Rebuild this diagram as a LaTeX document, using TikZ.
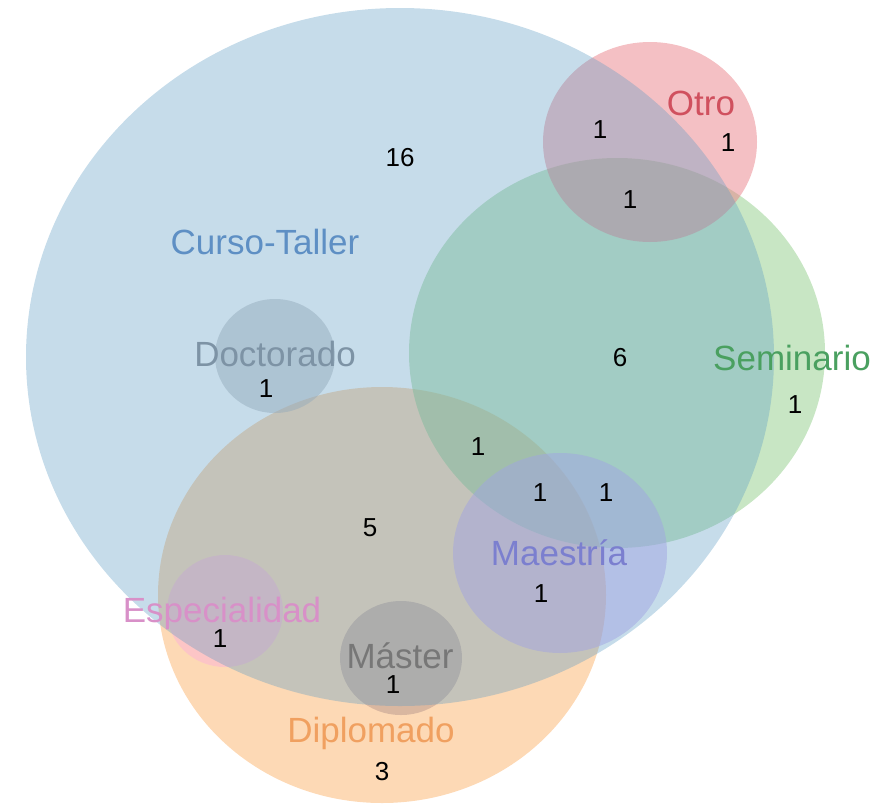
\documentclass[tikz,border=0pt]{standalone}
\usepackage{fontspec}
\setmainfont{Liberation Sans}
\usetikzlibrary{positioning, shapes.geometric}

\definecolor{cursoc}{RGB}{92,155,195}
\definecolor{otroc}{RGB}{233,129,137}
\definecolor{seminc}{RGB}{145,205,137}
\definecolor{doctc}{RGB}{181,181,185}
\definecolor{diplc}{RGB}{251,179,107}
\definecolor{maesc}{RGB}{199,169,243}
\definecolor{espc}{RGB}{251,169,225}
\definecolor{mastc}{RGB}{181,149,141}

\begin{document}
\begin{tikzpicture}[x=1pt, y=-1pt,
  set/.style={ellipse, inner sep=0pt, outer sep=0pt, fill opacity=0.5},
  lbl/.style={font=\fontsize{35}{38}\selectfont},
  num/.style={font=\fontsize{26}{28}\selectfont, text=black}]

\useasboundingbox (0,0) rectangle (885,806);

  % Sets (Curso-Taller last, on top)
  \node (diplomado) [set, fill=diplc, minimum width=448pt, minimum height=416pt] at (382,595) {};
  \node (seminario) [set, fill=seminc, minimum width=416pt, minimum height=390pt] at (617,353) {};
  \node (otro) [set, fill=otroc, minimum width=214pt, minimum height=200pt] at (650,142) {};
  \node (maestria) [set, fill=maesc, minimum width=214pt, minimum height=200pt] at (560,553) {};
  \node (especialidad) [set, fill=espc, fill opacity=0.4, minimum width=116pt, minimum height=112pt] at (225,611) {};
  \node (master) [set, fill=mastc, minimum width=122pt, minimum height=114pt] at (401,658) {};
  \node (doctorado) [set, fill=doctc, minimum width=120pt, minimum height=114pt] at (275,356) {};
  \node (curso) [set, fill=cursoc, fill opacity=0.35, minimum width=748pt, minimum height=698pt] at (400,357) {};

  % Labels
  \node (l_curso) [lbl, text={rgb,255:red,94;green,143;blue,196}] at (265,242) {Curso-Taller};
  \node (l_otro) [lbl, text={rgb,255:red,208;green,80;blue,94}] at (701,103) {Otro};
  \node (l_semin) [lbl, text={rgb,255:red,74;green,160;blue,96}] at (792,358) {Seminario};
  \node (l_doct) [lbl, text={rgb,255:red,125;green,147;blue,165}] at (275,354) {Doctorado};
  \node (l_maes) [lbl, text={rgb,255:red,123;green,127;blue,207}] at (559,553) {Maestría};
  \node (l_esp) [lbl, text={rgb,255:red,216;green,144;blue,200}] at (222,613) {Especialidad};
  \node (l_mast) [lbl, text={rgb,255:red,119;green,119;blue,119}] at (400,656) {Máster};
  \node (l_dipl) [lbl, text={rgb,255:red,240;green,160;blue,96}] at (371,733) {Diplomado};

  % Counts
  \node (n_curso) [num] at (400,158) {16};
  \node (n_co) [num] at (600,130) {1};
  \node (n_otro) [num] at (728,143) {1};
  \node (n_cos) [num] at (630,200) {1};
  \node (n_cs) [num] at (620,358) {6};
  \node (n_semin) [num] at (795,405) {1};
  \node (n_doct) [num] at (266,389) {1};
  \node (n_csd) [num] at (478,447) {1};
  \node (n_csdm) [num] at (540,493) {1};
  \node (n_csm) [num] at (606,493) {1};
  \node (n_cd) [num] at (370,528) {5};
  \node (n_maes) [num] at (541,594) {1};
  \node (n_esp) [num] at (220,639) {1};
  \node (n_mast) [num] at (393,685) {1};
  \node (n_dipl) [num] at (382,772) {3};

\end{tikzpicture}
\end{document}
